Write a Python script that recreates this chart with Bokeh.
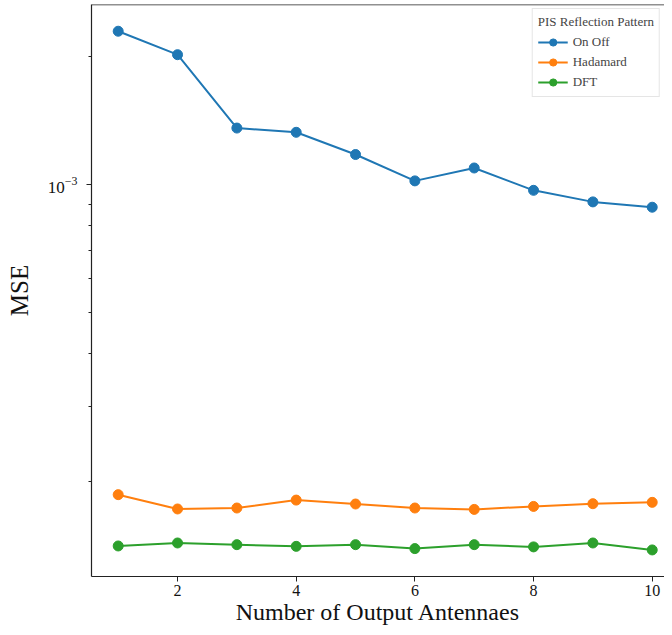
from bokeh.plotting import figure
from bokeh.models import FixedTicker, LogTickFormatter, Range1d, Legend, Span
from bokeh.embed import file_html
from bokeh.resources import INLINE

antennas = [1, 2, 3, 4, 5, 6, 7, 8, 9, 10]
on_off = [2.300e-3, 2.025e-3, 1.360e-3, 1.329e-3, 1.178e-3, 1.021e-3, 1.095e-3, 9.70e-4, 9.11e-4, 8.85e-4]
hadamard = [1.860e-4, 1.721e-4, 1.730e-4, 1.806e-4, 1.768e-4, 1.730e-4, 1.717e-4, 1.745e-4, 1.771e-4, 1.784e-4]
dft = [1.408e-4, 1.431e-4, 1.418e-4, 1.405e-4, 1.418e-4, 1.388e-4, 1.418e-4, 1.401e-4, 1.431e-4, 1.378e-4]
series_names = ["On Off", "Hadamard", "DFT"]
colors = ["#1f77b4", "#ff7f0e", "#2ca02c"]
x_ticks = [2, 4, 6, 8, 10]
y_major = [1e-3]
y_minor = [2e-4, 3e-4, 4e-4, 5e-4, 6e-4, 7e-4, 8e-4, 9e-4, 2e-3]

FONT = "Liberation Serif"
Y_TOP = 2.659e-3

p = figure(width=664, height=627, y_axis_type="log",
           x_range=Range1d(0.55, 10.207), y_range=Range1d(1.193e-4, Y_TOP),
           output_backend="svg", toolbar_location=None,
           min_border_left=91, min_border_right=0, min_border_top=4, min_border_bottom=0)

p.xgrid.grid_line_color = None
p.ygrid.grid_line_color = None
p.outline_line_color = None
p.background_fill_color = "white"
p.border_fill_color = "white"

p.add_layout(Span(location=Y_TOP, dimension="width", line_color="#222222", line_width=1.5))

items = []
for name, vals, c in zip(series_names, [on_off, hadamard, dft], colors):
    l = p.line(antennas, vals, line_color=c, line_width=2)
    s = p.scatter(antennas, vals, size=10, fill_color=c, line_color=c)
    items.append((name, [l, s]))

legend = Legend(items=items, location="top_right")
legend.title = "PIS Reflection Pattern"
legend.title_text_font = FONT
legend.title_text_font_size = "13px"
legend.title_text_font_style = "normal"
legend.label_text_font = FONT
legend.label_text_font_size = "13px"
legend.border_line_color = "#cccccc"
legend.border_line_width = 1
legend.background_fill_alpha = 0.9
legend.margin = 4
legend.padding = 5
legend.spacing = 2
legend.glyph_width = 30
legend.glyph_height = 18
legend.label_height = 18
legend.title_standoff = 3
p.add_layout(legend)

p.xaxis.ticker = FixedTicker(ticks=x_ticks)
p.yaxis.ticker = FixedTicker(ticks=y_major, minor_ticks=y_minor)
p.yaxis.formatter = LogTickFormatter()

for ax in [p.xaxis[0], p.yaxis[0]]:
    ax.axis_line_color = "#222222"
    ax.axis_line_width = 1.2
    ax.major_tick_line_color = "#222222"
    ax.minor_tick_line_color = "#222222"
    ax.major_tick_out = 5
    ax.major_tick_in = 0
    ax.minor_tick_out = 3
    ax.minor_tick_in = 0
    ax.major_label_text_font = FONT
    ax.major_label_text_font_size = "16px"
    ax.major_label_text_color = "#111111"
    ax.axis_label_text_font = FONT
    ax.axis_label_text_font_size = "25px"
    ax.axis_label_text_font_style = "normal"
    ax.axis_label_text_color = "#111111"

p.yaxis.major_label_text_font_size = "17px"
p.xaxis.minor_tick_line_color = None
p.xaxis.axis_label = "Number of Output Antennaes"
p.xaxis.axis_label_text_font_size = "24px"
p.yaxis.axis_label = "MSE"
p.xaxis.major_label_standoff = 3
p.xaxis.axis_label_standoff = 0
p.yaxis.major_label_standoff = 9
p.yaxis.axis_label_standoff = 12

open("out.html", "w").write(file_html(p, INLINE))
